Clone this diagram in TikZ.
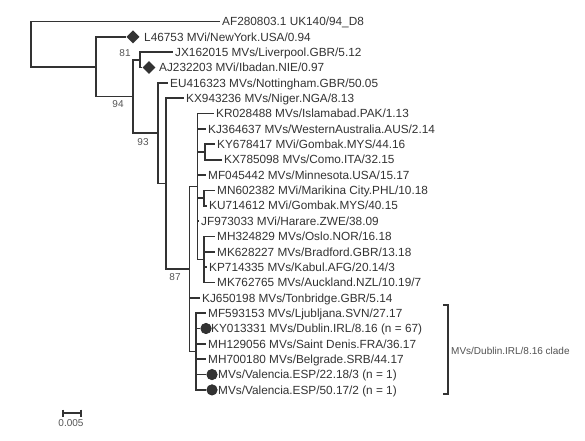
\documentclass[tikz,border=0pt]{standalone}
\usepackage{fontspec}
\setmainfont{Liberation Sans}
\usetikzlibrary{shapes.geometric}
\definecolor{ink}{HTML}{333333}
\definecolor{lab}{HTML}{555555}
\begin{document}
\begin{tikzpicture}[x=1pt,y=-1pt,
  br/.style={draw=ink,line width=1.7pt},
  leaf/.style={anchor=west,inner xsep=2pt,inner ysep=0pt,text height=8.5pt,text depth=0pt,font=\fontsize{11.8}{13}\selectfont,text=ink},
  dia/.style={diamond,fill=ink,minimum width=13pt,minimum height=13pt,inner sep=0pt},
  dot/.style={circle,fill=ink,draw=ink!80!black,line width=0.6pt,minimum size=10.5pt,inner sep=0pt},
  boot/.style={font=\fontsize{10}{12}\selectfont,text=lab,inner sep=0pt},
  thin/.style={draw=ink,line width=1.4pt}
]
\useasboundingbox[fill=white] (0,0) rectangle (585,440);
% internal nodes
\coordinate (R) at (31,44.1);
\coordinate (A) at (96,66.71);
\coordinate (B) at (133,96.57);
\coordinate (C) at (140,59.88);
\coordinate (D) at (158,133.27);
\coordinate (E) at (166,183.63);
\coordinate (F) at (189.5,269.02);
\coordinate (G) at (197.5,186.51);
\coordinate (KK) at (205,151.98);
\coordinate (MK) at (204,198.03);
\coordinate (MHg) at (204,259.43);
\coordinate (H) at (196,351.53);
% leaves
\node[leaf] (AF) at (220,21.5) {AF280803.1 UK140/94\_D8};
\node[dia] (dL) at (133,36.85) {};
\node[leaf] (L) at (142,36.85) {L46753 MVi/NewYork.USA/0.94};
\node[leaf] (JX) at (173,52.2) {JX162015 MVs/Liverpool.GBR/5.12};
\node[dia] (dJ) at (149,67.55) {};
\node[leaf] (AJ) at (157,67.55) {AJ232203 MVi/Ibadan.NIE/0.97};
\node[leaf] (EU) at (168,82.9) {EU416323 MVs/Nottingham.GBR/50.05};
\node[leaf] (KX9) at (184,98.25) {KX943236 MVs/Niger.NGA/8.13};
\node[leaf] (KR) at (214,113.6) {KR028488 MVs/Islamabad.PAK/1.13};
\node[leaf] (KJ3) at (206,128.95) {KJ364637 MVs/WesternAustralia.AUS/2.14};
\node[leaf] (KY6) at (215,144.3) {KY678417 MVi/Gombak.MYS/44.16};
\node[leaf] (KX7) at (222,159.65) {KX785098 MVs/Como.ITA/32.15};
\node[leaf] (MF0) at (206,175.0) {MF045442 MVs/Minnesota.USA/15.17};
\node[leaf] (MN) at (215,190.35) {MN602382 MVi/Marikina City.PHL/10.18};
\node[leaf] (KU) at (207,205.7) {KU714612 MVi/Gombak.MYS/40.15};
\node[leaf] (JF) at (199,221.05) {JF973033 MVi/Harare.ZWE/38.09};
\node[leaf] (MH3) at (215,236.4) {MH324829 MVs/Oslo.NOR/16.18};
\node[leaf] (MK6) at (215,251.75) {MK628227 MVs/Bradford.GBR/13.18};
\node[leaf] (KP) at (207,267.1) {KP714335 MVs/Kabul.AFG/20.14/3};
\node[leaf] (MK7) at (215,282.45) {MK762765 MVs/Auckland.NZL/10.19/7};
\node[leaf] (KJ6) at (200,297.8) {KJ650198 MVs/Tonbridge.GBR/5.14};
\node[leaf] (MF5) at (206,313.15) {MF593153 MVs/Ljubljana.SVN/27.17};
\node[dot] (dKY) at (206,328.5) {};
\node[leaf] (KY0) at (209,328.5) {KY013331 MVs/Dublin.IRL/8.16 (n = 67)};
\node[leaf] (MH1) at (206,343.85) {MH129056 MVs/Saint Denis.FRA/36.17};
\node[leaf] (MH7) at (206,359.2) {MH700180 MVs/Belgrade.SRB/44.17};
\node[dot] (dV1) at (212,374.55) {};
\node[leaf] (V1) at (216,374.55) {MVs/Valencia.ESP/22.18/3 (n = 1)};
\node[dot] (dV2) at (212,389.9) {};
\node[leaf] (V2) at (216,389.9) {MVs/Valencia.ESP/50.17/2 (n = 1)};
% branches
\draw[br] (R) |- (AF.west);
\draw[br] (R) |- (A);
\draw[br] (A) |- (dL.west);
\draw[br] (A) |- (B);
\draw[br] (B) |- (C);
\draw[br] (B) |- (D);
\draw[br] (C) |- (JX.west);
\draw[br] (C) |- (dJ.west);
\draw[br] (D) |- (EU.west);
\draw[br] (D) |- (E);
\draw[br] (E) |- (KX9.west);
\draw[br] (E) |- (F);
\draw[br] (F) |- (G);
\draw[br] (F) |- (KJ6.west);
\draw[br] (F) |- (H);
\draw[br] (G) |- (KR.west);
\draw[br] (G) |- (KJ3.west);
\draw[br] (G) |- (KK);
\draw[br] (G) |- (MF0.west);
\draw[br] (G) |- (MK);
\draw[br] (G) |- (JF.west);
\draw[br] (G) |- (MHg);
\draw[br] (KK) |- (KY6.west);
\draw[br] (KK) |- (KX7.west);
\draw[br] (MK) |- (MN.west);
\draw[br] (MK) |- (KU.west);
\draw[br] (MHg) |- (MH3.west);
\draw[br] (MHg) |- (MK6.west);
\draw[br] (MHg) |- (KP.west);
\draw[br] (MHg) |- (MK7.west);
\draw[br] (H) |- (MF5.west);
\draw[br] (H) |- (dKY.west);
\draw[br] (H) |- (MH1.west);
\draw[br] (H) |- (MH7.west);
\draw[br] (H) |- (dV1.west);
\draw[br] (H) |- (dV2.west);
% bootstrap values
\node[boot] (b81) at (125,53) {81};
\node[boot] (b94) at (118,104) {94};
\node[boot] (b93) at (143,142) {93};
\node[boot] (b87) at (175,277) {87};
% clade bracket
\coordinate (cT0) at (443,305);
\coordinate (cT) at (448,305);
\coordinate (cB) at (448,394);
\coordinate (cB0) at (443,394);
\draw[thin,line join=miter] (cT0) -- (cT) -- (cB) -- (cB0);
\node[boot,anchor=west,text=ink!85] (clade) at (451,351) {MVs/Dublin.IRL/8.16 clade};
% scale bar
\coordinate (s1) at (63,413);
\coordinate (s2) at (81,413);
\draw[thin] (s1) -- (s2);
\draw[thin] ([yshift=3.5pt]s1) -- ([yshift=-3.5pt]s1);
\draw[thin] ([yshift=3.5pt]s2) -- ([yshift=-3.5pt]s2);
\node[boot] (scl) at (71,423) {0.005};
\end{tikzpicture}
\end{document}
